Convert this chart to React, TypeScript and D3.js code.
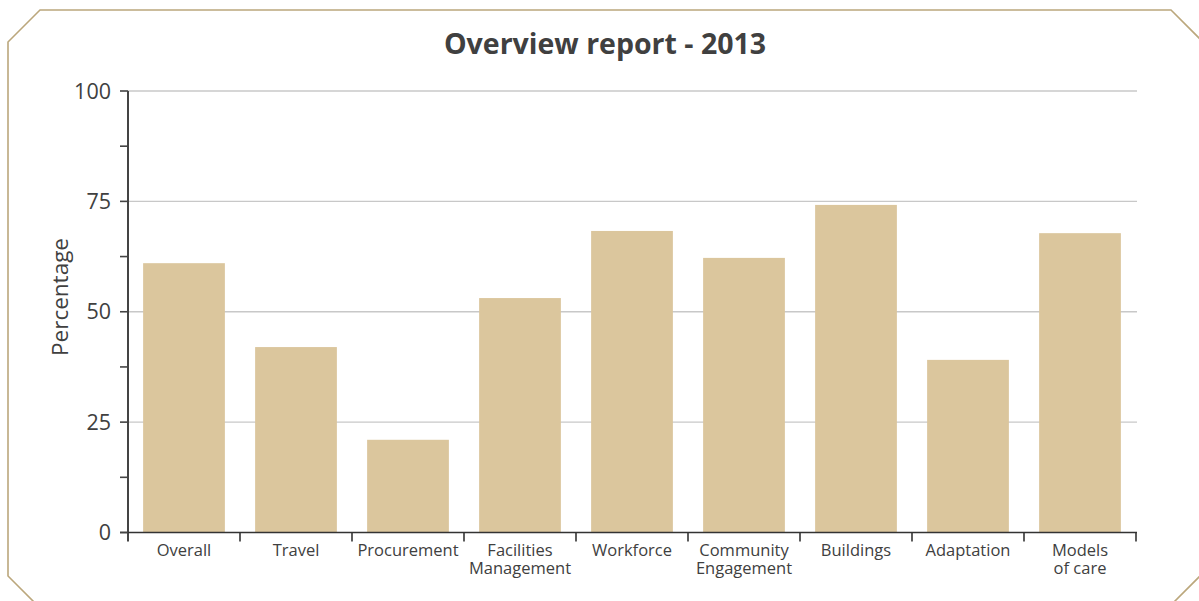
import React from "react";
import * as d3 from "d3";

const categories: string[][] = [
  ["Overall"],
  ["Travel"],
  ["Procurement"],
  ["Facilities", "Management"],
  ["Workforce"],
  ["Community", "Engagement"],
  ["Buildings"],
  ["Adaptation"],
  ["Models", "of care"],
];
const values: number[] = [61.0, 42.0, 21.0, 53.1, 68.3, 62.2, 74.2, 39.1, 67.8];
const majorTicks: number[] = [0, 25, 50, 75, 100];
const minorTicks: number[] = [12.5, 37.5, 62.5, 87.5];
const title = "Overview report - 2013";
const yLabel = "Percentage";

const W = 1199;
const H = 601;
const left = 128;
const right = 1136;
const top = 91;
const bottom = 532.5;

export default function App() {
  const keys = categories.map((c) => c.join(" "));
  const x = d3.scaleBand<string>().domain(keys).range([left, right]).paddingInner(0.27).paddingOuter(0.135);
  const y = d3.scaleLinear().domain([0, 100]).range([bottom, top]);
  const step = x.step();
  const font = "'Open Sans', 'Noto Sans', sans-serif";
  const frame = [
    [8, 42], [40, 10], [1171, 10], [1215, 54], [1215, 561], [1160, 616], [48, 616], [8, 576],
  ];
  return (
    <svg width={W} height={H} style={{ position: "absolute", left: 0, top: 0 }} fontFamily={font}>
      <rect x={0} y={0} width={W} height={H} fill="#fff" />
      <polygon points={frame.map((p) => p.join(",")).join(" ")} fill="none" stroke="#bba77c" strokeWidth={1.6} />
      <text x={605} y={54} textAnchor="middle" fontSize={28.5} fontWeight="bold" fill="#404040">{title}</text>
      {majorTicks.filter((t) => t > 0).map((t) => (
        <line key={"g" + t} x1={left} x2={right + 1} y1={y(t)} y2={y(t)} stroke="#c8c8c8" strokeWidth={1.3} />
      ))}
      {values.map((v, i) => (
        <rect key={"b" + i} x={x(keys[i])} y={y(v)} width={x.bandwidth()} height={y(0) - y(v)} fill="#dbc69d" />
      ))}
      <line x1={left} x2={left} y1={top} y2={bottom + 9} stroke="#444" strokeWidth={2} />
      <line x1={left - 8} x2={right + 1} y1={bottom} y2={bottom} stroke="#333" strokeWidth={1.6} />
      {majorTicks.concat(minorTicks).map((t) => (
        <line key={"t" + t} x1={left - 8} x2={left} y1={y(t)} y2={y(t)} stroke="#444" strokeWidth={1.6} />
      ))}
      {majorTicks.map((t) => (
        <text key={"l" + t} x={111} y={y(t)} dy="0.36em" textAnchor="end" fontSize={21.5} fill="#404040">{t}</text>
      ))}
      {keys.map((k, i) => (
        <line key={"xt" + i} x1={(x(k) as number) - (step - x.bandwidth()) / 2 + step} x2={(x(k) as number) - (step - x.bandwidth()) / 2 + step} y1={bottom} y2={bottom + 9} stroke="#333" strokeWidth={1.6} />
      ))}
      {categories.map((lines, i) =>
        lines.map((ln, j) => (
          <text key={"c" + i + "_" + j} x={(x(keys[i]) as number) + x.bandwidth() / 2} y={556 + j * 18} textAnchor="middle" fontSize={16.5} fill="#404040">
            {ln}
          </text>
        ))
      )}
      <text transform={`translate(68,297) rotate(-90)`} textAnchor="middle" fontSize={22.5} fill="#404040">{yLabel}</text>
    </svg>
  );
}
